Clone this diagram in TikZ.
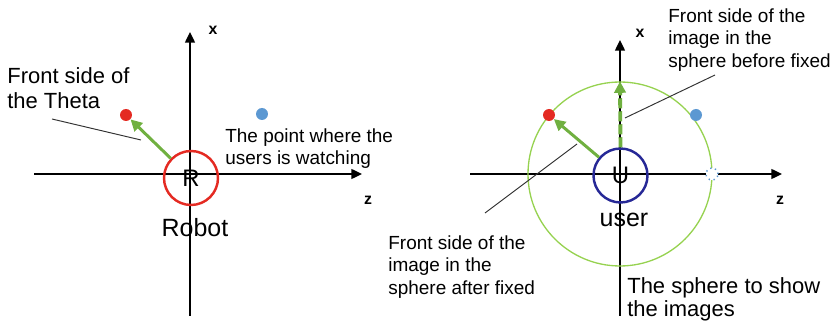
\documentclass[tikz,border=0pt]{standalone}
\usepackage{fontspec}
\setmainfont{Liberation Sans}
\usetikzlibrary{arrows.meta, positioning, calc}
\definecolor{robotrot}{RGB}{228,42,34}
\definecolor{nutzerblau}{RGB}{38,40,150}
\definecolor{kugelgruen}{RGB}{150,210,80}
\definecolor{pfeilgruen}{RGB}{112,176,64}
\definecolor{punktblau}{RGB}{92,152,210}
\tikzset{
  achse/.style={-{Triangle[length=6pt, width=5.6pt]}, line width=0.85pt, black},
  ring/.style={circle, draw, line width=1.4pt, minimum size=1.08cm, inner sep=0pt, font=\fontsize{13.6}{14}\selectfont},
  punkt/.style={circle, minimum size=0.24cm, inner sep=0pt},
  gruenpfeil/.style={-{Triangle[length=6.5pt, width=6.5pt]}, line width=1.7pt, pfeilgruen},
  zeiger/.style={line width=0.55pt, black!80},
  txt/.style={align=left, inner sep=0pt, anchor=north west, font=\fontsize{10.8}{13}\selectfont},
  achsname/.style={inner sep=0pt, font=\fontsize{9}{10}\bfseries\selectfont},
  rufname/.style={inner sep=0pt, anchor=base, font=\fontsize{14.2}{16}\selectfont},
}

\begin{document}
\begin{tikzpicture}[x=0.02cm, y=-0.02cm]
  \useasboundingbox (0,0) rectangle (833,324);

  % robot side
  \coordinate (zL0) at (34,174);  \coordinate (zL1) at (362,174);
  \coordinate (xL0) at (190,316); \coordinate (xL1) at (190,32);
  \draw[achse] (zL0) -- (zL1);
  \draw[achse] (xL0) -- (xL1);
  \node[achsname] (xL) at (213,30) {x};
  \node[achsname] (zL) at (368,200) {z};

  \node[ring, draw=robotrot] (robot) at (191,178) {R};
  \node[rufname] (robotname) at (195,237) {Robot};
  \node[punkt, fill=robotrot] (rotL) at (126,115) {};
  \node[punkt, fill=punktblau] (blauL) at (262,114) {};
  \draw[gruenpfeil] (robot) -- (rotL);

  \node[txt, font=\fontsize{12.5}{14.2}\selectfont] (theta) at (7,67) {Front side of\\the Theta};
  \coordinate (thetaA) at (52,119); \coordinate (thetaB) at (141,140);
  \draw[zeiger] (thetaA) -- (thetaB);
  \node[txt] (blick) at (225,128) {The point where the\\users is watching};

  % user side
  \coordinate (zR0) at (470,174); \coordinate (zR1) at (782,174);
  \coordinate (xR0) at (620,316); \coordinate (xR1) at (620,40);
  \draw[achse] (zR0) -- (zR1);
  \draw[achse] (xR0) -- (xR1);
  \node[achsname] (xR) at (640,33) {x};
  \node[achsname] (zR) at (780,200) {z};

  \node[circle, draw=kugelgruen, line width=0.75pt, minimum size=3.68cm, inner sep=0pt] (kugel) at (620,174) {};
  \node[ring, draw=nutzerblau] (user) at (620.5,175.5) {U};
  \node[rufname] (username) at (624,227) {user};
  \node[punkt, fill=robotrot] (rotR) at (549,115) {};
  \node[punkt, fill=punktblau] (blauR) at (696,115) {};
  \node[punkt, fill=white, draw=punktblau, dotted, line width=0.8pt] (leer) at (712,174) {};
  \draw[gruenpfeil] (user) -- (rotR);
  \draw[gruenpfeil, line width=2.2pt, dash pattern=on 5.7pt off 1.7pt] (user.north) -- (kugel.north);

  \node[txt] (vorher) at (668,8) {Front side of the\\image in the\\sphere before fixed};
  \coordinate (vorherA) at (715,75); \coordinate (vorherB) at (625,118);
  \draw[zeiger] (vorherA) -- (vorherB);
  \node[txt] (nachher) at (388,235) {Front side of the\\image in the\\sphere after fixed};
  \coordinate (nachherA) at (485,213); \coordinate (nachherB) at (577,144);
  \draw[zeiger] (nachherA) -- (nachherB);
  \node[txt, font=\fontsize{12.5}{13}\selectfont] (kugeltext) at (627,277) {The sphere to show\\the images};
\end{tikzpicture}
\end{document}
